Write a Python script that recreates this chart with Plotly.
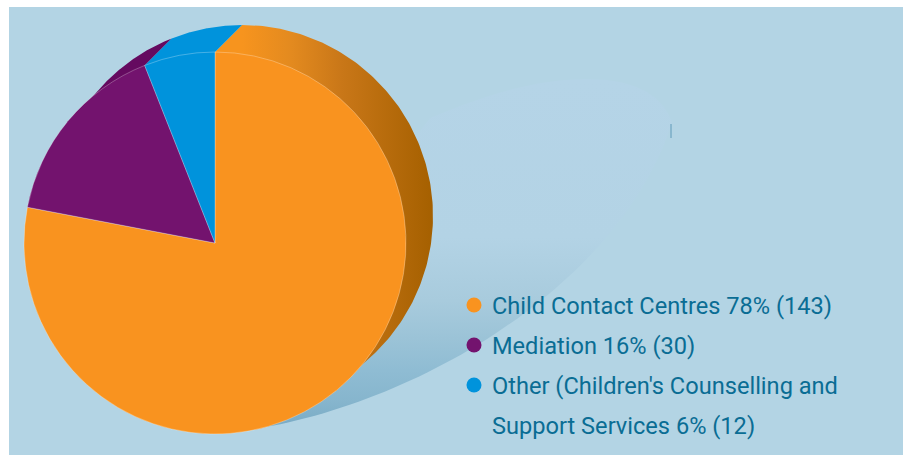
import numpy as np
import plotly.graph_objects as go

# Service mix: share of referrals and case counts
categories = ["Child Contact Centres", "Mediation", "Other"]
shares = [78, 16, 6]
counts = [143, 30, 12]
legend_lines = [
    "Child Contact Centres 78% (143)",
    "Mediation 16% (30)",
    "Other (Children's Counselling and",
    "Support Services 6% (12)",
]
face_colours = ["#F9931F", "#73136E", "#0093DC"]

WIDTH, HEIGHT = 903, 455
CX, CY, R = 215.0, 243.0, 191.0     # front disc, in page pixels
DX, DY = 27.0, -27.0                # offset of the rear disc
TEXT = "#0A6D94"
PANEL = "#B3D4E4"
FONT = "Roboto"
FONT_SIZE = 23.6


def point(angle_deg, shifted=False):
    """Point on the rim, angle measured clockwise from twelve o'clock."""
    a = np.radians(angle_deg)
    x, y = CX + R * np.sin(a), CY - R * np.cos(a)
    return (x + DX, y + DY) if shifted else (x, y)


def side_wall(start, stop):
    """Outline of a slice's rear sector, closed through the front disc."""
    back_x, back_y = point(np.linspace(start, stop, 160), True)
    front_stop, front_start = point(np.array([stop])), point(np.array([start]))
    return (
        np.concatenate([back_x, front_stop[0], [CX], front_start[0]]),
        np.concatenate([back_y, front_stop[1], [CY], front_start[1]]),
    )


def bezier(p0, p1, p2, p3, n=60):
    """Cubic curve through two end points and two handles."""
    t = np.linspace(0, 1, n)[:, None]
    pts = np.array([p0, p1, p2, p3], dtype=float)
    return (
        (1 - t) ** 3 * pts[0] + 3 * (1 - t) ** 2 * t * pts[1]
        + 3 * (1 - t) * t ** 2 * pts[2] + t ** 3 * pts[3]
    )


fig = go.Figure()

# Pale swoosh sweeping out from beneath the disc
swoosh = np.vstack([
    bezier((255, 429), (420, 402), (620, 285), (672, 123)),
    bezier((672, 123), (662, 90), (625, 78), (583, 79)),
    bezier((583, 79), (530, 80), (480, 97), (430, 118)),
    np.array([[330, 250], [255, 429]], dtype=float),
])
fig.add_trace(go.Scatter(
    x=swoosh[:, 0], y=swoosh[:, 1], mode="lines", fill="toself",
    line=dict(width=0),
    fillgradient=dict(
        type="vertical", start=80, stop=430,
        colorscale=[
            [0.0, "#B5D4E7"], [0.45, "#B3D3E5"], [0.63, "#A8CBDD"],
            [0.74, "#9BC3D7"], [0.83, "#8FBCD3"], [0.92, "#86B5CD"], [1.0, "#78AAC4"],
        ],
    ),
    hoverinfo="skip", showlegend=False,
))

# Rear disc, one sector per slice, built from the same shares as the face.
# Only the part outside the front disc shows, bounded by where the circles cross.
edges = np.cumsum([0] + shares) / sum(shares) * 360
half_gap = np.degrees(np.arcsin(np.hypot(DX, DY) / 2 / R))
cross_right, cross_left = 135 + half_gap, 315 - half_gap

wall_x, wall_y = side_wall(edges[0], cross_right)
fig.add_trace(go.Scatter(
    x=wall_x, y=wall_y, mode="lines", fill="toself", line=dict(width=0),
    fillgradient=dict(
        type="horizontal", start=CX + DX, stop=CX + DX + R,
        colorscale=[[0.0, "#F7941E"], [0.26, "#E38A1F"], [0.52, "#C97718"], [1.0, "#A56000"]],
    ),
    hoverinfo="skip", showlegend=False,
))
wall_x, wall_y = side_wall(cross_left, edges[2])
fig.add_trace(go.Scatter(
    x=wall_x, y=wall_y, mode="lines", fill="toself", line=dict(width=0),
    fillcolor="#650A60", hoverinfo="skip", showlegend=False,
))
wall_x, wall_y = side_wall(edges[2], edges[3])
fig.add_trace(go.Scatter(
    x=wall_x, y=wall_y, mode="lines", fill="toself", line=dict(width=0),
    fillcolor=face_colours[2], hoverinfo="skip", showlegend=False,
))

# Front face of the pie
fig.add_trace(go.Pie(
    labels=categories, values=shares, sort=False, direction="clockwise", rotation=0,
    marker=dict(colors=face_colours, line=dict(color="rgba(255,255,255,0.35)", width=0.8)),
    textinfo="none", hoverinfo="label+percent", showlegend=False,
    domain=dict(
        x=[(CX - R) / WIDTH, (CX + R) / WIDTH],
        y=[1 - (CY + R) / HEIGHT, 1 - (CY - R) / HEIGHT],
    ),
))

# Key: one dot per category, four lines of text
row_y = [305, 345, 385, 425]
fig.add_trace(go.Scatter(
    x=[474] * 3, y=row_y[:3], mode="markers",
    marker=dict(color=face_colours, size=15, line=dict(width=0)),
    hoverinfo="skip", showlegend=False,
))
annotations = [
    dict(
        x=490, y=y + 1, xref="x", yref="y", text=line, showarrow=False,
        xanchor="left", yanchor="middle",
        font=dict(family=FONT, size=FONT_SIZE, color=TEXT),
    )
    for line, y in zip(legend_lines, row_y)
]

fig.update_layout(
    width=WIDTH, height=HEIGHT,
    margin=dict(l=0, r=0, t=0, b=0),
    paper_bgcolor="white", plot_bgcolor="white",
    xaxis=dict(range=[0, WIDTH], visible=False, fixedrange=True),
    yaxis=dict(range=[HEIGHT, 0], visible=False, fixedrange=True),
    shapes=[
        dict(type="rect", xref="x", yref="y", x0=9, x1=WIDTH, y0=7, y1=HEIGHT,
             fillcolor=PANEL, line=dict(width=0), layer="below"),
        dict(type="line", xref="x", yref="y", x0=671, x1=671, y0=124, y1=138,
             line=dict(color="#5E9AB8", width=1), layer="above"),
    ],
    annotations=annotations,
    font=dict(family=FONT),
)

fig.write_html("out.html", config=dict(displayModeBar=False))
